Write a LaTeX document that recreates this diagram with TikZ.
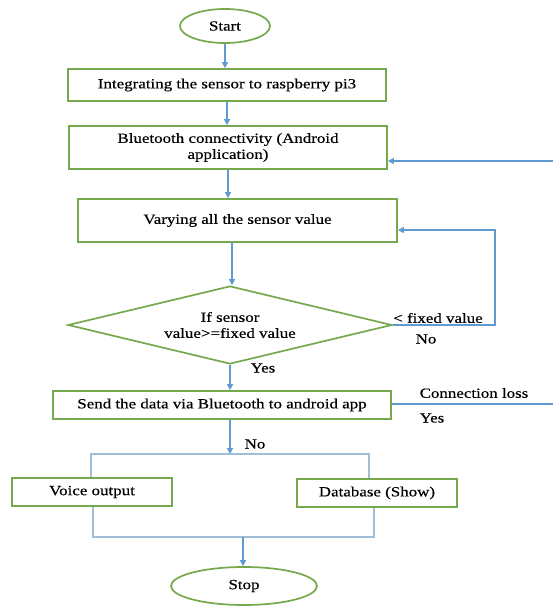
\documentclass[tikz,border=0pt]{standalone}
\usepackage{fontspec}
\setmainfont{Liberation Serif}[FakeStretch=1.21,FakeBold=0.4]
\usetikzlibrary{shapes.geometric,arrows.meta}
\definecolor{boxgreen}{RGB}{118,168,78}
\definecolor{arrblue}{RGB}{95,155,210}
\definecolor{lineblue}{RGB}{160,190,215}
\tikzset{
  every node/.style={font=\fontsize{14}{16}\selectfont, text=black},
  procbox/.style={draw=boxgreen, line width=1.7pt, fill=white, rectangle, inner sep=0pt, align=center},
  termbox/.style={draw=boxgreen, line width=1.7pt, fill=white, ellipse, inner sep=0pt},
  decbox/.style={draw=boxgreen, line width=1.7pt, fill=white, diamond, shape aspect=4.15, inner sep=0pt, align=center},
  arr/.style={draw=arrblue, line width=1.1pt, -{Triangle[length=6pt,width=6pt]}},
  plainline/.style={draw=arrblue, line width=1.1pt},
  lightline/.style={draw=lineblue, line width=1.1pt},
  lbl/.style={inner sep=0pt}
}
\begin{document}
\begin{tikzpicture}[x=1pt,y=-1pt]
\useasboundingbox (0,0) rectangle (553,606);
\fill[white] (0,0) rectangle (553,606);
% nodes
\node[termbox, minimum width=90pt, minimum height=34pt] (start) at (225,26) {Start};
\node[procbox, minimum width=318pt, minimum height=32pt] (b1) at (227,85) {Integrating the sensor to raspberry pi3};
\node[procbox, minimum width=318pt, minimum height=43pt] (b2) at (228,147.5) {Bluetooth connectivity (Android\\application)};
\node[procbox, minimum width=319pt, minimum height=43pt] (b3) at (237.5,220.5) {Varying all the sensor value};
\node[decbox, minimum width=324pt, minimum height=78pt] (dia) at (230,325) {If sensor\\value>=fixed value};
\node[procbox, minimum width=338pt, minimum height=28pt] (send) at (222,405) {Send the data via Bluetooth to android app};
\node[procbox, minimum width=160pt, minimum height=28pt] (voice) at (92,492) {Voice output};
\node[procbox, minimum width=160pt, minimum height=28pt] (db) at (377,493) {Database (Show)};
\node[termbox, minimum width=146pt, minimum height=38pt] (stop) at (244,586) {Stop};
% labels
\node[lbl] (lyes1) at (263,368) {Yes};
\node[lbl] (lfixed) at (438,318) {< fixed value};
\node[lbl] (lno1) at (426,339) {No};
\node[lbl] (lconn) at (474,393) {Connection loss};
\node[lbl] (lyes2) at (432,418) {Yes};
\node[lbl] (lno2) at (255,444) {No};
% helper coordinates
\coordinate (fbin) at (553,161);
\coordinate (clout) at (553,404);
\coordinate (loopc) at (495,230);
\coordinate (split) at (230,454);
\coordinate (splitL) at (91,454);
\coordinate (splitR) at (369,454);
\coordinate (mergeL) at (93,537);
\coordinate (mergeR) at (374,537);
\coordinate (merge) at (243,537);
% connectors
\draw[arr] (start.south) -- (start.south |- b1.north);
\draw[arr] (b1.south) -- (b1.south |- b2.north);
\draw[arr] (b2.south) -- (b2.south |- b3.north);
\draw[arr] (232,242) coordinate (b3out) -- (b3out |- dia.north);
\draw[arr] (dia.south) -- (dia.south |- send.north);
\draw[arr] (dia.east) -| (loopc) -- (loopc -| b3.east);
\draw[arr] (fbin) -- (fbin -| b2.east);
\draw[plainline] (clout -| send.east) -- (clout);
\draw[arr] (split |- send.south) -- (split);
\draw[lightline] (splitL |- voice.north) -- (splitL) -- (splitR) -- (splitR |- db.north);
\draw[lightline] (mergeL |- voice.south) -- (mergeL) -- (mergeR) -- (mergeR |- db.south);
\draw[arr] (merge) -- (merge |- stop.north);
\end{tikzpicture}
\end{document}
